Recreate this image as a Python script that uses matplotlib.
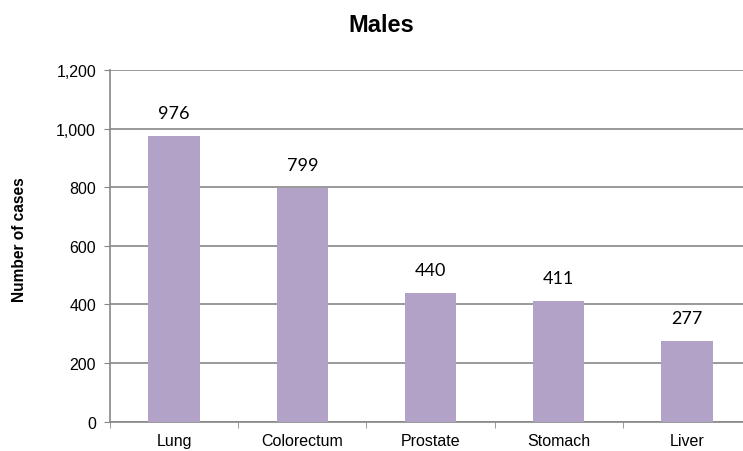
import matplotlib.pyplot as plt
import numpy as np
from matplotlib.ticker import FuncFormatter

sites = ['Lung', 'Colorectum', 'Prostate', 'Stomach', 'Liver']
cases = [976, 799, 440, 411, 277]
yticks = [0, 200, 400, 600, 800, 1000, 1200]

fig = plt.figure(figsize=(7.43, 4.52), dpi=100)
ax = fig.add_axes([110 / 743, 29.3 / 452, 641 / 743, 351.7 / 452])

x = np.arange(len(sites))
ax.bar(x, cases, width=0.4, color='#B2A2C7', zorder=3)

for xi, v in zip(x, cases):
    ax.annotate(str(v), (xi, v), xytext=(0, 23), textcoords='offset pixels',
                ha='center', va='center', fontsize=13, family='Lato', zorder=4)

ax.set_xlim(-0.5, len(sites) - 0.5)
ax.set_ylim(0, 1200)
ax.set_yticks(yticks)
ax.yaxis.set_major_formatter(FuncFormatter(lambda v, p: '{:,.0f}'.format(v)))
ax.set_xticks(x)
ax.set_xticklabels(sites)
ax.set_xticks(np.arange(-0.5, len(sites)), minor=True)

ax.grid(axis='y', color='#878787', linewidth=1.2, zorder=0)
for s in ['top', 'right']:
    ax.spines[s].set_visible(False)
for s in ['left', 'bottom']:
    ax.spines[s].set_color('#878787')
    ax.spines[s].set_linewidth(1.2)

ax.tick_params(axis='y', length=4, color='#878787', labelsize=11.5, pad=6)
ax.tick_params(axis='x', which='major', length=0, labelsize=11.5, pad=8)
ax.tick_params(axis='x', which='minor', length=4, color='#878787')
for lab in ax.get_xticklabels() + ax.get_yticklabels():
    lab.set_family('Liberation Sans')

fig.text(381 / 743, 1 - 32 / 452, 'Males', ha='center', va='baseline',
         fontsize=17, fontweight='bold', family='Liberation Sans')
fig.text(20 / 743, 1 - 240 / 452, 'Number of cases', ha='center', va='center',
         rotation=90, fontsize=11.2, fontweight='bold', family='Liberation Sans')

fig.savefig('out.png', dpi=100)
